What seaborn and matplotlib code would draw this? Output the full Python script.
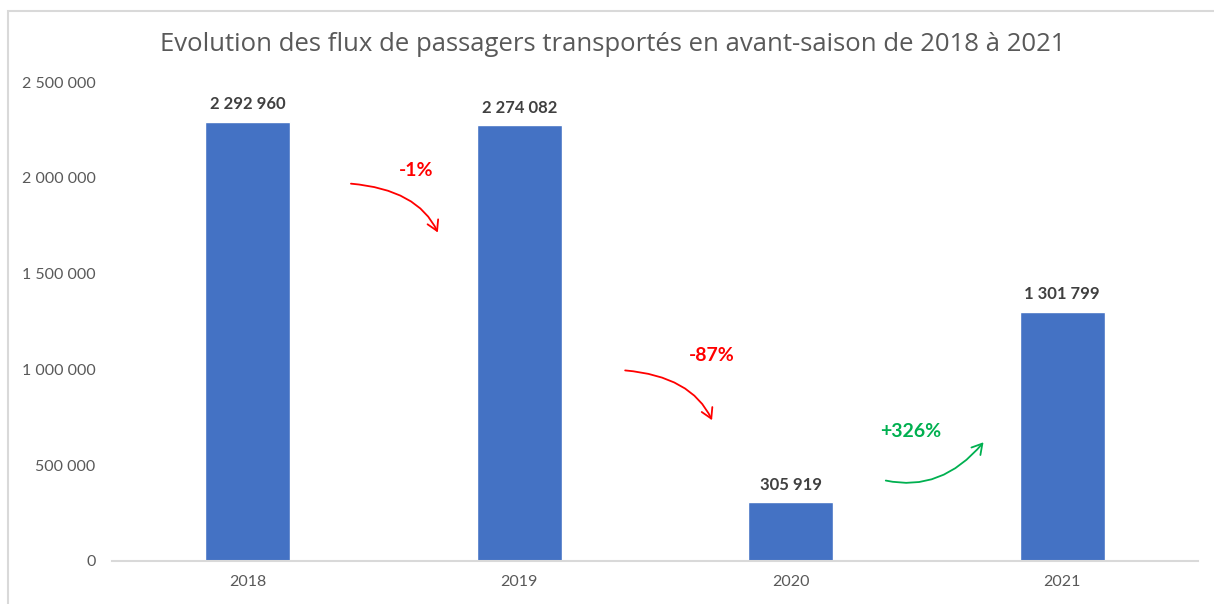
import numpy as np
import pandas as pd
import matplotlib.pyplot as plt
import seaborn as sns
from matplotlib.patches import Rectangle
from matplotlib.ticker import FuncFormatter

YEARS = ["2018", "2019", "2020", "2021"]
PASSENGERS = [2292960, 2274082, 305919, 1301799]

# arrow placement between consecutive bars: (x start, y start, x end, y end, angle start, angle end)
ARROWS = [
    (0.38, 1970000, 0.70, 1715000, -5, 115),
    (1.39, 995000, 1.71, 735000, -5, 115),
    (2.35, 420000, 2.71, 620000, -12, 50),
]
LABEL_POS = [(0.62, 2040000), (1.71, 1075000), (2.44, 675000)]

BAR_COLOR = "#4472C4"
TEXT_COLOR = "#595959"


def fmt_thousands(v, pos=None):
    return f"{int(round(v)):,}".replace(",", " ")


sns.set_theme(style="white")
plt.rcParams['font.family'] = ['Lato', 'DejaVu Sans']

df = pd.DataFrame({"year": YEARS, "passengers": PASSENGERS})

fig = plt.figure(figsize=(12.14, 6.04), dpi=100)
ax = fig.add_axes([0.0923, 0.0712, 0.8945, 0.7928])

sns.barplot(data=df, x="year", y="passengers", color=BAR_COLOR, width=0.313,
            saturation=1, ax=ax)

ax.set_ylim(0, 2500000)
ax.set_xlim(-0.5, len(YEARS) - 0.5)
ax.set_yticks(np.arange(0, 2500001, 500000))
ax.yaxis.set_major_formatter(FuncFormatter(fmt_thousands))
ax.tick_params(axis="y", length=0, pad=12, labelsize=11.5, labelcolor=TEXT_COLOR)
ax.tick_params(axis="x", length=0, pad=10, labelsize=11.5, labelcolor=TEXT_COLOR)
ax.set_xlabel("")
ax.set_ylabel("")
for side in ["top", "right", "left"]:
    ax.spines[side].set_visible(False)
ax.spines["bottom"].set_color("#D9D9D9")
ax.spines["bottom"].set_linewidth(1.5)

ax.bar_label(ax.containers[0], labels=[fmt_thousands(v) for v in PASSENGERS],
             padding=7, fontsize=12, fontweight="bold", color="#404040")

# evolution arrows
for i, (x0, y0, x1, y1, a0, a1) in enumerate(ARROWS):
    change = PASSENGERS[i + 1] / PASSENGERS[i] - 1
    col = "#00B050" if change > 0 else "#FF0000"
    ax.annotate("", xy=(x1, y1), xytext=(x0, y0),
                arrowprops=dict(arrowstyle="->,head_length=0.6,head_width=0.35",
                                color=col, lw=1.3, shrinkA=0, shrinkB=0,
                                connectionstyle=f"angle3,angleA={a0},angleB={a1}"))
    lx, ly = LABEL_POS[i]
    ax.text(lx, ly, f"{change * 100:+.0f}%", color=col, fontsize=14,
            fontweight="bold", ha="center", va="center")

fig.suptitle("Evolution des flux de passagers transportés en avant-saison de 2018 à 2021",
             x=0.505, y=0.947, fontsize=18.5, color=TEXT_COLOR,
             family=["Open Sans", "DejaVu Sans"])

fig.add_artist(Rectangle((0.0066, -0.05), 1.1, 0.0326 + 1.0, transform=fig.transFigure,
                         fill=False, edgecolor="#D9D9D9", lw=1.5))

fig.savefig("out.png", dpi=100)
